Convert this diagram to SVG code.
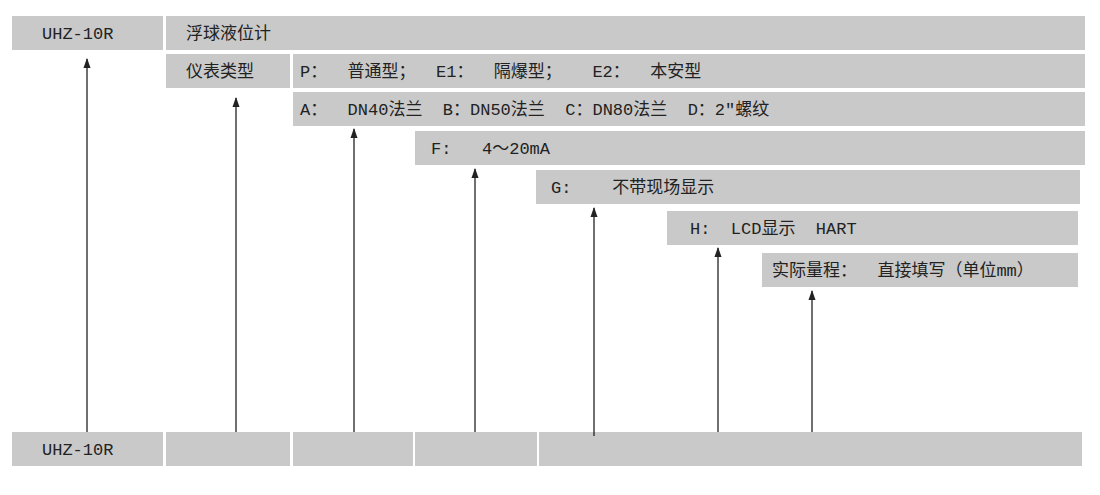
<svg xmlns="http://www.w3.org/2000/svg" width="1100" height="495" viewBox="0 0 1100 495">
<style>
.b{fill:#c9c9c9}
text{font-family:"Liberation Mono","Noto Sans CJK SC",monospace;font-size:17px;fill:#222}
.c line{stroke:#222;stroke-width:1.3}
</style>
<defs><marker id="a" viewBox="0 0 10 10" refX="9" refY="5" markerWidth="8" markerHeight="8" orient="auto"><path d="M0,1.5L10,5L0,8.5z" fill="#222"/></marker></defs>
<rect width="1100" height="495" fill="#fff"/>
<g id="r1"><rect class="b" x="12" y="16" width="151" height="34"/><text x="42" y="39">UHZ-10R</text>
<rect class="b" x="166" y="16" width="919" height="34"/><text x="186" y="39">浮球液位计</text></g>
<g id="r2"><rect class="b" x="166" y="54" width="124" height="34"/><text x="186" y="77">仪表类型</text>
<rect class="b" x="293" y="54" width="792" height="34"/><text x="300" y="77" xml:space="preserve">P：  普通型；  E1：  隔爆型；   E2：  本安型</text></g>
<g id="r3"><rect class="b" x="293" y="92" width="792" height="34"/><text x="300" y="115" xml:space="preserve">A：  DN40法兰  B：DN50法兰  C：DN80法兰  D：2″螺纹</text></g>
<g id="r4"><rect class="b" x="415" y="131" width="670" height="34"/><text x="431" y="154" xml:space="preserve">F:   4～20mA</text></g>
<g id="r5"><rect class="b" x="536" y="170" width="544" height="34"/><text x="551" y="193" xml:space="preserve">G:    不带现场显示</text></g>
<g id="r6"><rect class="b" x="667" y="211" width="411" height="34"/><text x="690" y="234" xml:space="preserve">H:  LCD显示  HART</text></g>
<g id="r7"><rect class="b" x="762" y="253" width="316" height="34"/><text x="772" y="276" xml:space="preserve">实际量程：  直接填写（单位mm）</text></g>
<g id="bottom"><rect class="b" x="12" y="432" width="151" height="34"/><text x="42" y="455">UHZ-10R</text>
<rect class="b" x="166" y="432" width="124" height="34"/><rect class="b" x="293" y="432" width="120" height="34"/><rect class="b" x="415" y="432" width="122" height="34"/><rect class="b" x="539" y="432" width="543" height="34"/></g>
<g class="c" marker-end="url(#a)">
<line x1="87" y1="432" x2="87" y2="59"/><line x1="236" y1="432" x2="236" y2="98"/><line x1="354" y1="432" x2="354" y2="129"/><line x1="475" y1="432" x2="475" y2="169"/><line x1="594" y1="436" x2="594" y2="208"/><line x1="718" y1="432" x2="718" y2="248"/><line x1="812" y1="432" x2="812" y2="291"/>
</g>
</svg>
